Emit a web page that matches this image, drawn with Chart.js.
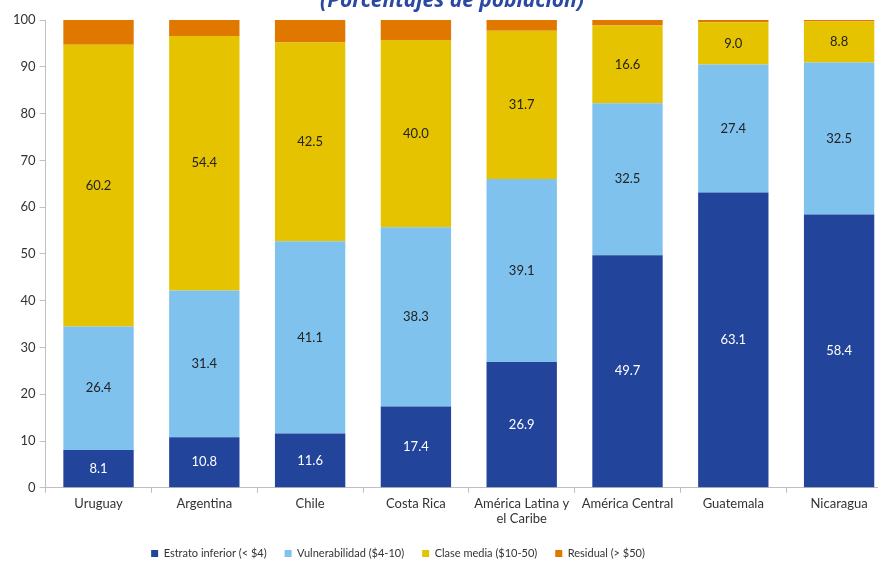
<!DOCTYPE html>
<html><head><meta charset="utf-8">
<script src="https://cdn.jsdelivr.net/npm/chart.js@4/dist/chart.umd.min.js"></script>
<style>
html,body{margin:0;padding:0;background:#fff;overflow:hidden;width:878px;height:561px;}
#wrap{position:relative;width:892px;height:561px;}
#title{position:absolute;top:-15px;left:0;width:904px;text-align:center;font:italic bold 21px "Noto Sans",sans-serif;color:#2B48A3;white-space:nowrap;}
</style></head>
<body>
<div id="wrap"><div id="title">(Porcentajes de población)</div><canvas id="c" width="892" height="561"></canvas></div>
<script>
const categories = ["Uruguay","Argentina","Chile","Costa Rica",["América Latina y","el Caribe"],"América Central","Guatemala","Nicaragua"];
const estratoInferior = [8.1,10.8,11.6,17.4,26.9,49.7,63.1,58.4];
const vulnerabilidad = [26.4,31.4,41.1,38.3,39.1,32.5,27.4,32.5];
const claseMedia = [60.2,54.4,42.5,40.0,31.7,16.6,9.0,8.8];
const residual = [5.3,3.4,4.8,4.3,2.3,1.2,0.5,0.3];
const yTicks = [0,10,20,30,40,50,60,70,80,90,100];
const seriesNames = ["Estrato inferior (< $4)","Vulnerabilidad ($4-10)","Clase media ($10-50)","Residual (> $50)"];

const FONT = "Lato";
const labelPlugin = {
  id:'barLabels',
  afterDatasetsDraw(chart){
    const ctx = chart.ctx;
    ctx.save();
    ctx.font = "13px " + FONT;
    ctx.textAlign = "center";
    ctx.textBaseline = "middle";
    chart.data.datasets.forEach((ds,i)=>{
      if(ds.showLabels===false) return;
      const meta = chart.getDatasetMeta(i);
      meta.data.forEach((bar,j)=>{
        const v = ds.data[j];
        const y = (bar.y + bar.base)/2;
        ctx.fillStyle = ds.labelColor;
        ctx.fillText(v.toFixed(1), bar.x, y);
      });
    });
    ctx.restore();
  }
};
// legend in the reference sits left of the plot centre
const legendShift = {
  id:'legendShift',
  afterLayout(chart){
    const lg = chart.legend;
    if(!lg) return;
    const d = 398 - (lg.left + lg.right)/2;
    lg.left += d; lg.right += d;
  }
};

new Chart(document.getElementById('c'),{
  type:'bar',
  data:{
    labels:categories,
    datasets:[
      {label:seriesNames[0],data:estratoInferior,backgroundColor:'#22449B',labelColor:'#ffffff'},
      {label:seriesNames[1],data:vulnerabilidad,backgroundColor:'#7FC2EE',labelColor:'#222222'},
      {label:seriesNames[2],data:claseMedia,backgroundColor:'#E5C300',labelColor:'#222222'},
      {label:seriesNames[3],data:residual,backgroundColor:'#E07800',showLabels:false}
    ]
  },
  options:{
    responsive:false,
    animation:false,
    layout:{padding:{top:20,left:9,right:0,bottom:-8}},
    datasets:{bar:{categoryPercentage:1,barPercentage:0.665,borderWidth:0}},
    scales:{
      x:{stacked:true,
        grid:{display:true,drawOnChartArea:false,offset:true,color:'#BFBFBF',tickLength:5},
        border:{color:'#BFBFBF'},
        ticks:{font:{family:FONT,size:13},color:'#333333',padding:3,maxRotation:0,autoSkip:false}
      },
      y:{stacked:true,min:0,max:100,
        afterBuildTicks(s){s.ticks = yTicks.map(v=>({value:v}));},
        grid:{display:true,drawOnChartArea:false,color:'#BFBFBF',tickLength:6},
        border:{color:'#BFBFBF'},
        ticks:{font:{family:FONT,size:13},color:'#333333',padding:4}
      }
    },
    plugins:{
      legend:{position:'bottom',fullSize:false,
        labels:{boxWidth:7,boxHeight:7,padding:18,font:{family:FONT,size:11},color:'#333333'}},
      tooltip:{enabled:false},
      title:{display:false}
    }
  },
  plugins:[labelPlugin, legendShift]
});
</script>
</body></html>
